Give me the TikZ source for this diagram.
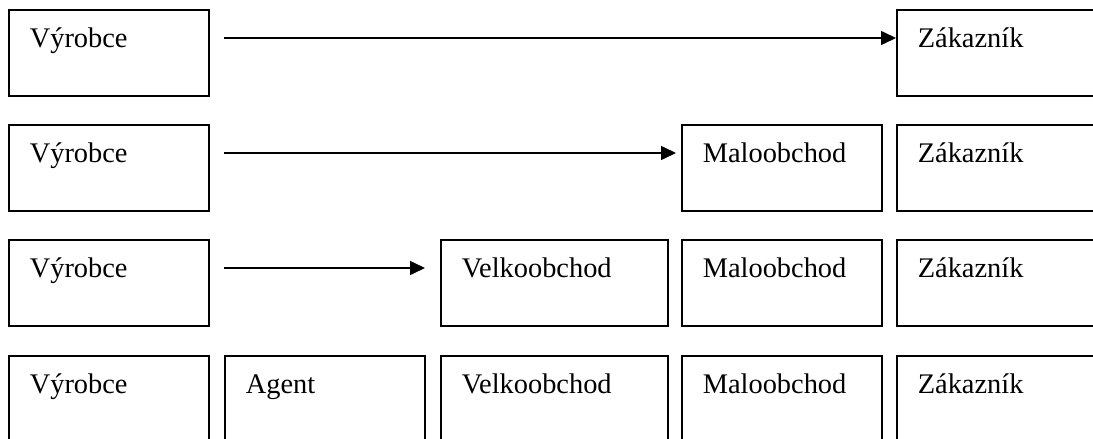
\documentclass[tikz,border=0pt]{standalone}
\usepackage{fontspec}
\setmainfont{Liberation Serif}
\usetikzlibrary{arrows.meta}
\begin{document}
\begin{tikzpicture}[x=1pt, y=-1pt,
  mybox/.style={draw, line width=1.6pt, anchor=north west, align=left,
    font=\fontsize{28.4}{34}\selectfont, inner xsep=21pt, inner ysep=0pt,
    text width=158pt, text height=38pt, text depth=48pt},
  widebox/.style={mybox, text width=185pt},
  myarrow/.style={line width=1.6pt, -{Triangle[length=15pt,width=14pt]}}]
  \fill[white] (0,0) rectangle (1093,439);
  \clip (0,0) rectangle (1093,439);

  % row 1
  \node[mybox] (v1) at (8,9) {Výrobce};
  \node[mybox] (z1) at (896,9) {Zákazník};
  \coordinate (s1) at (224,38);

  % row 2
  \node[mybox] (v2) at (8,124) {Výrobce};
  \node[mybox] (m2) at (681,124) {Maloobchod};
  \node[mybox] (z2) at (896,124) {Zákazník};
  \coordinate (s2) at (224,153);

  % row 3
  \node[mybox] (v3) at (8,239) {Výrobce};
  \node[widebox] (w3) at (440,239) {Velkoobchod};
  \node[mybox] (m3) at (681,239) {Maloobchod};
  \node[mybox] (z3) at (896,239) {Zákazník};
  \coordinate (s3) at (224,268);

  % row 4
  \node[mybox] (v4) at (8,355) {Výrobce};
  \node[mybox] (a4) at (224,355) {Agent};
  \node[widebox] (w4) at (440,355) {Velkoobchod};
  \node[mybox] (m4) at (681,355) {Maloobchod};
  \node[mybox] (z4) at (896,355) {Zákazník};

  \draw [myarrow] (s1) -- (s1 -| z1.west);
  \draw [myarrow, shorten >=5pt] (s2) -- (s2 -| m2.west);
  \draw [myarrow, shorten >=15pt] (s3) -- (s3 -| w3.west);
\end{tikzpicture}
\end{document}
